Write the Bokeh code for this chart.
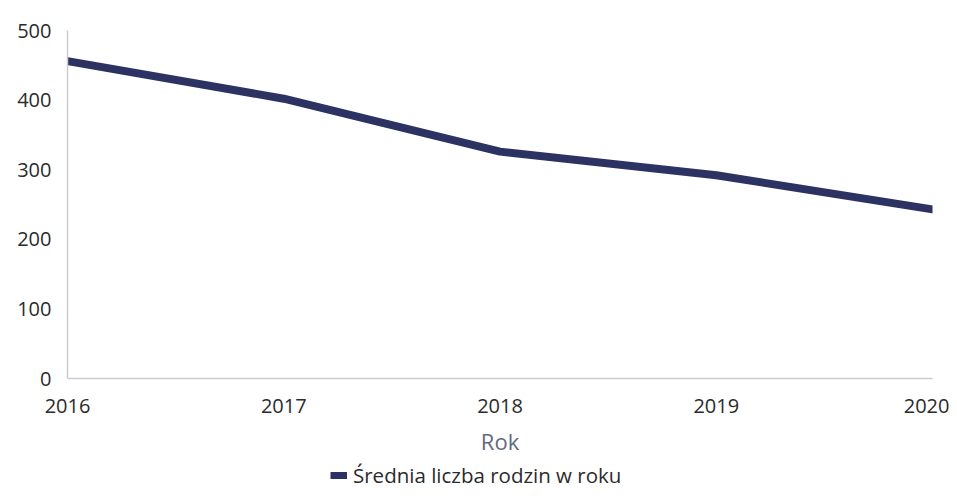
from bokeh.plotting import figure
from bokeh.layouts import column
from bokeh.models import Range1d, FixedTicker, Legend, LegendItem
from bokeh.embed import file_html
from bokeh.resources import INLINE

years = [2016, 2017, 2018, 2019, 2020]
values = [456, 402, 326, 292, 243]
y_ticks = [0, 100, 200, 300, 400, 500]
series_name = "Średnia liczba rodzin w roku"
x_title = "Rok"

FONT = "Open Sans"
LINE_COLOR = "#2c3363"

p = figure(width=949, height=458, output_backend="svg", toolbar_location=None,
           x_range=Range1d(2016, 2020), y_range=Range1d(0, 500),
           min_border_left=67, min_border_right=17, min_border_top=30, min_border_bottom=80)

r = p.line(years, values, line_color=LINE_COLOR, line_width=8, line_join="round", line_cap="round")

p.xgrid.visible = False
p.ygrid.visible = False
p.outline_line_color = None

for ax in (p.xaxis[0], p.yaxis[0]):
    ax.axis_line_color = "#c9ccd2"
    ax.axis_line_width = 1.5
    ax.major_tick_line_color = None
    ax.minor_tick_line_color = None
    ax.major_label_text_font = FONT
    ax.major_label_text_font_size = "20px"
    ax.major_label_text_color = "#2b2b2b"

p.xaxis.ticker = FixedTicker(ticks=years)
p.yaxis.ticker = FixedTicker(ticks=y_ticks)
p.xaxis.major_label_standoff = 14
p.yaxis.major_label_standoff = 10
p.xaxis.axis_label = x_title
p.xaxis.axis_label_text_font = FONT
p.xaxis.axis_label_text_font_style = "normal"
p.xaxis.axis_label_text_font_size = "22px"
p.xaxis.axis_label_text_color = "#5f6a80"
p.xaxis.axis_label_standoff = 10

# legend strip below the chart
p2 = figure(width=949, height=30, output_backend="svg", toolbar_location=None,
            x_range=Range1d(2016, 2020), y_range=Range1d(0, 500),
            min_border_left=0, min_border_right=0, min_border_top=0, min_border_bottom=0)
p2.axis.visible = False
p2.grid.visible = False
p2.outline_line_color = None
r2 = p2.line(years, values, line_color=LINE_COLOR, line_width=7, visible=False)

legend = Legend(items=[LegendItem(label=series_name, renderers=[r2])],
                location=(263, -1), orientation="horizontal",
                border_line_color=None, background_fill_alpha=0,
                label_text_font=FONT, label_text_font_size="20.5px", label_text_color="#2b2b2b",
                glyph_width=17, glyph_height=20, padding=0, margin=0, label_standoff=6)
p2.add_layout(legend, "center")

layout = column(p, p2, spacing=0)
open("out.html", "w").write(file_html(layout, INLINE))
